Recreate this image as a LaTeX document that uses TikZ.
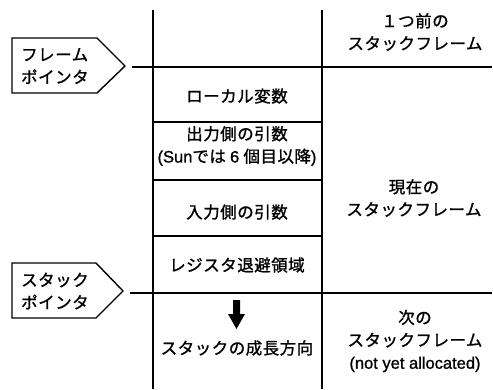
\documentclass[tikz,border=0pt]{standalone}
\usepackage{fontspec}
\newfontfamily\jp[FakeBold=1.2,LetterSpace=3]{Noto Sans CJK JP}
\newfontfamily\lat[FakeBold=1.0]{Liberation Sans}
\tikzset{
  x=1pt, y=-1pt,
  rule/.style={line width=1.4pt, black},
  txt/.style={font=\jp\fontsize{16.5}{22.5}\selectfont, align=center, inner sep=0pt},
  ptr/.style={line width=1.4pt, black, line join=miter},
}
\begin{document}
\begin{tikzpicture}
\useasboundingbox (0,0) rectangle (493,389);
% columns
\coordinate (lt) at (153,10); \coordinate (lb) at (153,389);
\coordinate (rt) at (322,10); \coordinate (rb) at (322,389);
\draw[rule] (lt) -- (lb);
\draw[rule] (rt) -- (rb);
% separators
\coordinate (s1l) at (153,122); \coordinate (s1r) at (322,122);
\coordinate (s2l) at (153,180); \coordinate (s2r) at (322,180);
\coordinate (s3l) at (153,236); \coordinate (s3r) at (322,236);
\draw[rule] (s1l) -- (s1r);
\draw[rule] (s2l) -- (s2r);
\draw[rule] (s3l) -- (s3r);
% pointers
\draw[ptr] (12,38) coordinate (fpa) -- (97,38) -- (125,66) coordinate (fptip) -- (97,93) -- (12,93) -- cycle;
\node[txt, align=left, anchor=west] (fp) at (21,66) {フレーム\\ポインタ};
\coordinate (fpl) at (132,67); \coordinate (fpr) at (492,67);
\draw[rule] (fpl) -- (fpr);
\draw[ptr] (12,263) coordinate (spa) -- (96,263) -- (123,291) coordinate (sptip) -- (96,318) -- (12,318) -- cycle;
\node[txt, align=left, anchor=west] (sp) at (21,291) {スタック\\ポインタ};
\coordinate (spl) at (130,293); \coordinate (spr) at (492,293);
\draw[rule] (spl) -- (spr);
% box texts
\node[txt] (lv) at (237,96) {ローカル変数};
\node[txt] (oa) at (237,146) {出力側の引数\\{\lat(Sun}では {\lat 6} 個目以降{\lat)}};
\node[txt] (ia) at (237,212) {入力側の引数};
\node[txt] (rs) at (237,265) {レジスタ退避領域};
\node[txt] (gd) at (237,348) {スタックの成長方向};
% arrow
\coordinate (ga) at (237,301); \coordinate (gb) at (237,329);
\fill (233,300) -- (240,300) -- (240,314) -- (245,314) -- (236.5,329) -- (228,314) -- (233,314) -- cycle;
% right texts
\node[txt] (pf) at (415,32) {１つ前の\\スタックフレーム};
\node[txt] (cf) at (414,198) {現在の\\スタックフレーム};
\node[txt] (nf) at (415,341) {次の\\スタックフレーム\\{\lat (not yet allocated)}};
\end{tikzpicture}
\end{document}
